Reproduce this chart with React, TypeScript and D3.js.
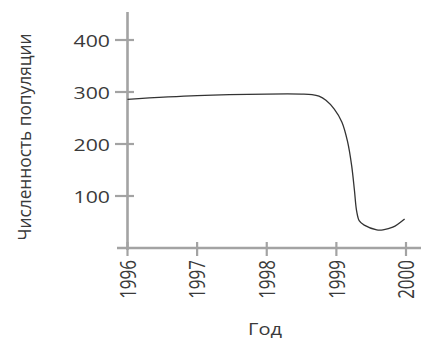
import React from "react";
import * as d3 from "d3";

const years = [1996, 1997, 1998, 1999, 2000];
const yTicks = [100, 200, 300, 400];
const seriesX = [1996.0, 1997.0, 1998.0, 1998.5, 1998.65, 1998.75, 1998.85, 1998.97, 1999.08, 1999.16, 1999.22, 1999.26, 1999.29, 1999.33, 1999.4, 1999.58, 1999.67, 1999.81, 1999.98];
const seriesY = [286, 293, 296, 296, 295, 292, 284, 267, 242, 205, 158, 110, 72, 52, 44, 35, 35, 40, 56];
const xTitle = "Год";
const yTitle = "Численность популяции";

const W = 421, H = 338;
const axisColor = "#a3a3a3";
const textColor = "#3a3a3a";
const font = "'Open Sans', sans-serif";
const SX = 1.25;

export default function App() {
  const x = d3.scaleLinear().domain([1996, 2000]).range([127.5, 406]);
  const y = d3.scaleLinear().domain([0, 400]).range([248, 40]);
  const pts: [number, number][] = seriesX.map((v, i) => [v, seriesY[i]]);
  const line = d3
    .line<[number, number]>()
    .x((d) => x(d[0]))
    .y((d) => y(d[1]))
    .curve(d3.curveCatmullRom.alpha(0.5));
  return (
    <svg width={W} height={H} style={{ position: "absolute", left: 0, top: 0 }}>
      <rect width={W} height={H} fill="#fff" />
      <line x1={x(1996)} x2={x(1996)} y1={12} y2={250} stroke={axisColor} strokeWidth={2.6} />
      <line x1={117} x2={W} y1={y(0)} y2={y(0)} stroke={axisColor} strokeWidth={2.6} />
      {yTicks.map((t) => (
        <g key={t}>
          <line x1={115} x2={134} y1={y(t)} y2={y(t)} stroke={axisColor} strokeWidth={2.2} />
          <text
            transform={`translate(110,${y(t)}) scale(${SX},1)`}
            textAnchor="end"
            dominantBaseline="central"
            fontFamily={font}
            fontSize={17}
            fill={textColor}
          >
            {t}
          </text>
        </g>
      ))}
      {years.map((yr) => (
        <g key={yr}>
          <line x1={x(yr)} x2={x(yr)} y1={242} y2={256} stroke={axisColor} strokeWidth={2.2} />
          <text
            transform={`translate(${x(yr)},260) scale(${SX},1) rotate(-90)`}
            textAnchor="end"
            dominantBaseline="central"
            fontFamily={font}
            fontSize={17}
            fill={textColor}
          >
            {yr}
          </text>
        </g>
      ))}
      <path d={line(pts) || ""} fill="none" stroke="#333" strokeWidth={1.3} />
      <text
        transform={`translate(265,335) scale(${SX},1)`}
        textAnchor="middle"
        fontFamily={font}
        fontSize={16}
        fill={textColor}
      >
        {xTitle}
      </text>
      <text
        transform={`translate(24,137) scale(${SX},1) rotate(-90)`}
        textAnchor="middle"
        dominantBaseline="central"
        fontFamily={font}
        fontSize={15}
        fill={textColor}
        textLength={207}
        lengthAdjust="spacingAndGlyphs"
      >
        {yTitle}
      </text>
    </svg>
  );
}
